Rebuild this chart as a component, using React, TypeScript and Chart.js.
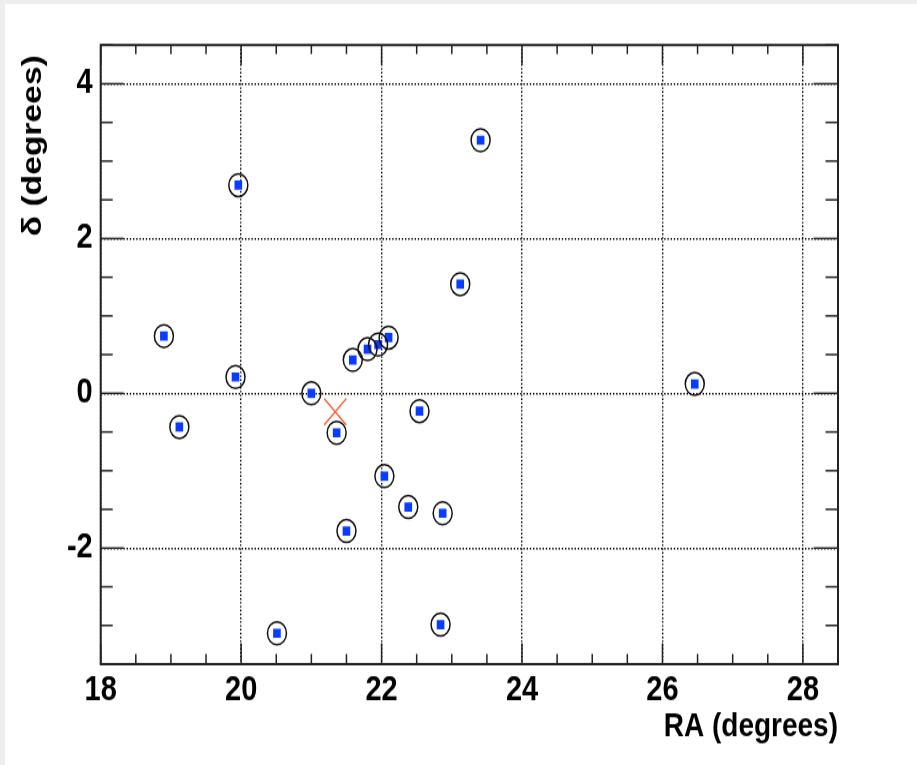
import React, { useEffect, useRef } from 'react';
import { Chart, registerables } from 'chart.js';

Chart.register(...registerables);

// Source positions: right ascension and declination, in degrees
const raValues = [
  18.90, 19.12, 19.92, 19.96, 20.51, 21.0, 21.36, 21.50, 21.59, 21.80,
  21.95, 22.10, 22.04, 22.38, 22.54, 22.87, 22.84, 23.12, 23.41, 26.46,
];
const decValues = [
  0.74, -0.435, 0.21, 2.69, -3.10, 0.0, -0.51, -1.78, 0.43, 0.57,
  0.63, 0.72, -1.07, -1.47, -0.23, -1.55, -2.99, 1.41, 3.27, 0.12,
];

// Reference direction (red cross)
const centreRa = [21.34];
const centreDec = [-0.24];

// Axis ranges and tick labels
const xRange = [18, 28.5];
const yRange = [-3.5, 4.5];
const xTickValues = [18, 20, 22, 24, 26, 28];
const yTickValues = [-2, 0, 2, 4];
const minorStep = 0.5;

const xTitle = 'RA (degrees)';
const yTitle = 'δ (degrees)';

// Drawing surface (internal pixels) and the vertical stretch applied on screen
const CANVAS_W = 912;
const CANVAS_H = 634;
const STRETCH_Y = 1.2;

const FONT = '"Liberation Sans", Arial, Helvetica, sans-serif';

// Frame around the plot area with inward-pointing major and minor ticks on all four sides
const frameTicks = {
  id: 'frameTicks',
  beforeDatasetsDraw(chart: any) {
    const { ctx, chartArea: a, scales } = chart;
    const x = scales.x;
    const y = scales.y;
    ctx.save();
    ctx.strokeStyle = '#222';
    ctx.lineWidth = 1.5;
    const seg = (x1: number, y1: number, x2: number, y2: number) => {
      ctx.beginPath();
      ctx.moveTo(x1, y1);
      ctx.lineTo(x2, y2);
      ctx.stroke();
    };
    const nx = Math.round((x.max - x.min) / minorStep);
    for (let i = 0; i <= nx; i++) {
      const v = x.min + i * minorStep;
      const px = x.getPixelForValue(v);
      const major = xTickValues.includes(v);
      seg(px, a.bottom, px, a.bottom - (major ? 17.5 : 8.5));
      seg(px, a.top, px, a.top + (major ? 16.5 : 7.5));
    }
    const ny = Math.round((y.max - y.min) / minorStep);
    for (let i = 0; i <= ny; i++) {
      const v = y.min + i * minorStep;
      const py = y.getPixelForValue(v);
      const major = yTickValues.includes(v);
      seg(a.left, py, a.left + (major ? 23 : 12), py);
      seg(a.right, py, a.right - (major ? 24.5 : 12.5), py);
    }
    ctx.lineWidth = 2;
    ctx.strokeRect(a.left, a.top, a.right - a.left, a.bottom - a.top);
    ctx.restore();
  },
  // Vertical axis title, set a little below the top of the frame
  afterDraw(chart: any) {
    const { ctx, chartArea: a } = chart;
    ctx.save();
    ctx.translate(28, a.top + 8.5);
    ctx.rotate(-Math.PI / 2);
    ctx.fillStyle = '#000';
    ctx.font = `bold 28px ${FONT}`;
    ctx.textAlign = 'right';
    ctx.textBaseline = 'middle';
    ctx.fillText(yTitle, 0, 0);
    ctx.restore();
  },
};

export default function App() {
  const canvasRef = useRef<HTMLCanvasElement | null>(null);

  useEffect(() => {
    const canvas = canvasRef.current;
    if (!canvas) return;

    const sources = raValues.map((ra, i) => ({ x: ra, y: decValues[i] }));
    const centre = centreRa.map((ra, i) => ({ x: ra, y: centreDec[i] }));

    const chart = new Chart(canvas, {
      type: 'scatter',
      data: {
        datasets: [
          {
            label: 'rings',
            data: sources,
            pointStyle: 'circle',
            pointRadius: 9.5,
            pointHoverRadius: 9.5,
            pointBorderWidth: 1.5,
            pointHoverBorderWidth: 1.5,
            borderColor: '#111',
            backgroundColor: 'rgba(0,0,0,0)',
          },
          {
            label: 'sources',
            data: sources,
            pointStyle: 'rect',
            pointRadius: 5.4,
            pointHoverRadius: 5.4,
            pointBorderWidth: 0,
            borderColor: '#0a3cff',
            backgroundColor: '#0a3cff',
          },
          {
            label: 'centre',
            data: centre,
            pointStyle: 'crossRot',
            pointRadius: 15.6,
            pointHoverRadius: 15.6,
            pointBorderWidth: 1.4,
            borderColor: '#ff5a3a',
            backgroundColor: '#ff5a3a',
          },
        ],
      },
      options: {
        responsive: false,
        animation: false,
        events: [],
        layout: { padding: { left: 0, right: CANVAS_W - 833, top: 34.2, bottom: 0 } },
        plugins: {
          legend: { display: false },
          tooltip: { enabled: false },
        },
        scales: {
          x: {
            type: 'linear',
            min: xRange[0],
            max: xRange[1],
            afterBuildTicks: (scale: any) => {
              scale.ticks = xTickValues.map((v) => ({ value: v }));
            },
            afterFit: (scale: any) => {
              scale.height = CANVAS_H - 550;
            },
            grid: {
              color: '#000',
              lineWidth: 1.4,
              drawTicks: false,
              tickLength: 0,
            },
            border: { display: false, dash: [1.4, 1.8] },
            ticks: {
              color: '#000',
              padding: 5,
              maxRotation: 0,
              font: { family: FONT, size: 29, weight: 'bold' },
            },
            title: {
              display: true,
              text: xTitle,
              align: 'end',
              color: '#000',
              padding: { top: 0, bottom: 15 },
              font: { family: FONT, size: 28, weight: 'bold' },
            },
          },
          y: {
            type: 'linear',
            min: yRange[0],
            max: yRange[1],
            afterBuildTicks: (scale: any) => {
              scale.ticks = yTickValues.map((v) => ({ value: v }));
            },
            afterFit: (scale: any) => {
              scale.width = 95.7;
            },
            grid: {
              color: '#000',
              lineWidth: 1.4,
              drawTicks: false,
              tickLength: 0,
            },
            border: { display: false, dash: [1.4, 1.8] },
            ticks: {
              color: '#000',
              padding: 8,
              font: { family: FONT, size: 29, weight: 'bold' },
            },
            title: { display: false },
          },
        },
      },
      plugins: [frameTicks],
    } as any);

    return () => chart.destroy();
  }, []);

  return (
    <div
      style={{
        position: 'fixed',
        left: 0,
        top: 0,
        width: 917,
        height: 765,
        background: '#eeeeee',
        overflow: 'hidden',
      }}
    >
      <canvas
        ref={canvasRef}
        width={CANVAS_W}
        height={CANVAS_H}
        style={{
          position: 'absolute',
          left: 5,
          top: 4,
          width: CANVAS_W,
          height: Math.round(CANVAS_H * STRETCH_Y),
          display: 'block',
          background: '#ffffff',
        }}
      />
    </div>
  );
}
